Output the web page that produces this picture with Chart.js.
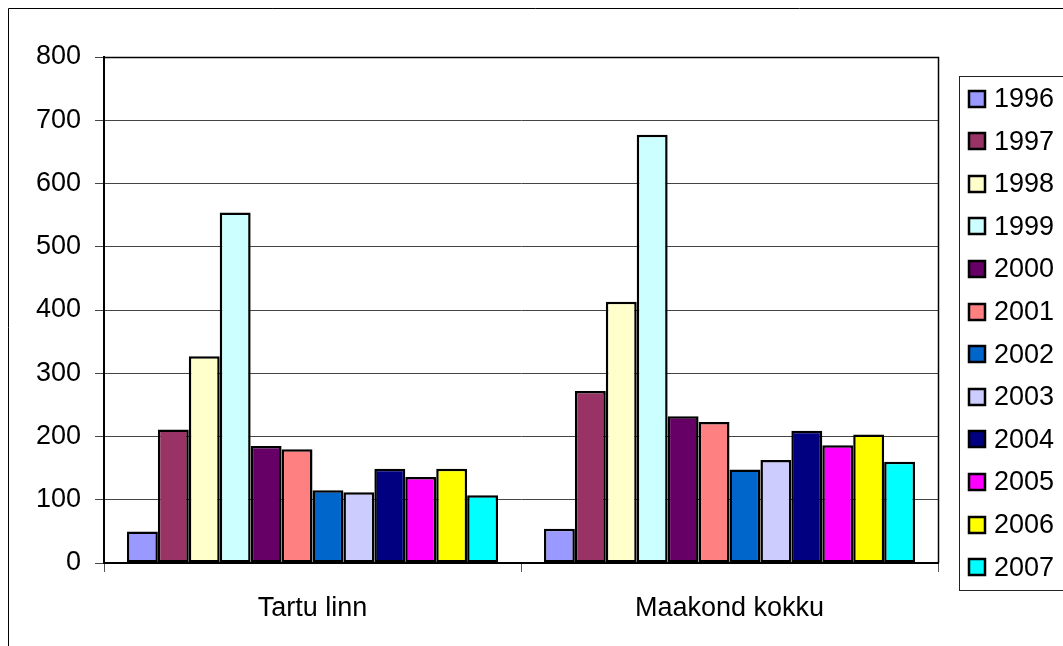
<!DOCTYPE html>
<html>
<head>
<meta charset="utf-8">
<script src="https://cdn.jsdelivr.net/npm/chart.js@4.4.1/dist/chart.umd.min.js"></script>
<style>
  html, body { margin: 0; padding: 0; background: #fff; }
  #wrap { width: 1063px; height: 646px; position: relative; }
</style>
</head>
<body>
<div id="wrap"><canvas id="c" width="1063" height="646"></canvas></div>
<script>
const categories = ['Tartu linn', 'Maakond kokku'];
const years = ['1996','1997','1998','1999','2000','2001','2002','2003','2004','2005','2006','2007'];
const tartuLinn   = [50, 211, 327, 554, 185, 180, 115, 112, 149, 136, 149, 107];
const maakondKokku = [54, 272, 413, 677, 232, 223, 148, 163, 209, 186, 203, 160];
const yearColors = ['#9999FF','#993366','#FFFFCC','#CCFFFF','#660066','#FF8080','#0066CC','#CCCCFF','#000080','#FF00FF','#FFFF00','#00FFFF'];
const yTicks = [0, 100, 200, 300, 400, 500, 600, 700, 800];

const FONT = '"Liberation Sans", Arial, sans-serif';

const datasets = years.map((y, i) => ({
  label: y,
  data: [tartuLinn[i], maakondKokku[i]],
  backgroundColor: yearColors[i],
  borderColor: '#000',
  borderWidth: 2.5,
  borderSkipped: false,
  categoryPercentage: 0.89,
  barPercentage: 1.0
}));

const decor = {
  id: 'decor',
  beforeDraw(chart) {
    const ctx = chart.ctx;
    ctx.save();
    ctx.fillStyle = '#fff';
    ctx.fillRect(0, 0, chart.width, chart.height);
    ctx.restore();
  },
  afterDraw(chart) {
    const ctx = chart.ctx;
    const a = chart.chartArea;
    ctx.save();
    // outer chart frame
    ctx.strokeStyle = '#000';
    ctx.lineWidth = 1;
    ctx.beginPath();
    ctx.moveTo(8.5, 646); ctx.lineTo(8.5, 8.5); ctx.lineTo(1063, 8.5);
    ctx.stroke();
    // plot area frame (top/right)
    ctx.lineWidth = 1.5;
    ctx.beginPath();
    ctx.moveTo(a.left, a.top + 0.5); ctx.lineTo(a.right + 0.5, a.top + 0.5); ctx.lineTo(a.right + 0.5, a.bottom);
    ctx.stroke();
    // legend
    ctx.strokeStyle = '#222';
    ctx.lineWidth = 1;
    ctx.strokeRect(959.5, 76.5, 200, 514);
    ctx.font = '27px ' + FONT;
    ctx.textBaseline = 'middle';
    ctx.textAlign = 'left';
    chart.data.datasets.forEach((ds, i) => {
      const cy = 98.5 + i * 42.6;
      ctx.fillStyle = ds.backgroundColor;
      ctx.fillRect(969, Math.round(cy) - 8, 16, 16);
      ctx.lineWidth = 2.5;
      ctx.strokeStyle = '#000';
      ctx.strokeRect(969, Math.round(cy) - 8, 16, 16);
      ctx.fillStyle = '#000';
      ctx.fillText(ds.label, 994, cy + 1);
    });
    ctx.restore();
  }
};

new Chart(document.getElementById('c'), {
  type: 'bar',
  data: { labels: categories, datasets },
  options: {
    responsive: false,
    animation: false,
    devicePixelRatio: 1,
    layout: { padding: { left: 0, top: 57, right: 125, bottom: 0 } },
    plugins: {
      legend: { display: false },
      tooltip: { enabled: false }
    },
    scales: {
      x: {
        afterFit(scale) { scale.height = 83; },
        offset: true,
        grid: { display: true, drawOnChartArea: false, drawTicks: true, tickLength: 9, color: '#555', lineWidth: 1, offset: true },
        border: { display: true, color: '#000', width: 2 },
        ticks: { color: '#000', font: { family: FONT, size: 27 }, padding: 20, maxRotation: 0 }
      },
      y: {
        min: 0,
        max: 800,
        afterFit(scale) { scale.width = 104; },
        afterBuildTicks(scale) { scale.ticks = yTicks.map(v => ({ value: v })); },
        grid: { color: '#444', lineWidth: 1, tickLength: 9, drawTicks: true },
        border: { display: true, color: '#000', width: 2 },
        ticks: { color: '#000', font: { family: FONT, size: 27 }, padding: 14 }
      }
    }
  },
  plugins: [decor]
});
</script>
</body>
</html>
